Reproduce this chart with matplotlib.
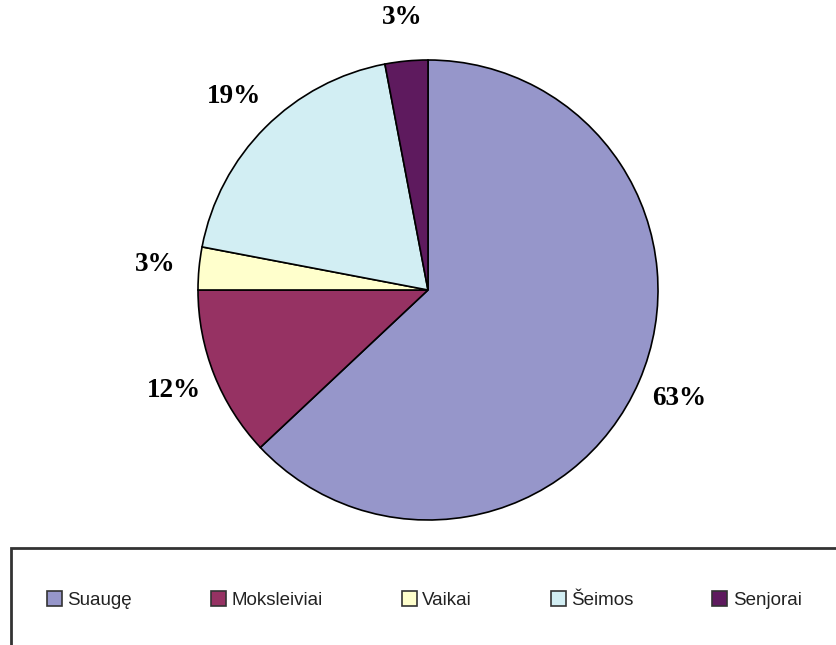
import matplotlib
matplotlib.use("Agg")
import matplotlib.pyplot as plt
from matplotlib.patches import Rectangle, Patch

categories = ["Suaugę", "Moksleiviai", "Vaikai", "Šeimos", "Senjorai"]
values = [63, 12, 3, 19, 3]
colors = ["#9696CA", "#963263", "#FFFFCC", "#D2EEF3", "#5E1A5E"]

W, H = 837, 645
fig = plt.figure(figsize=(W / 100, H / 100), dpi=100)
fig.patch.set_facecolor("white")

cx, cy, r = 428, 290, 230
ax = fig.add_axes([(cx - r) / W, 1 - (cy + r) / H, 2 * r / W, 2 * r / H])
wedges, texts, autotexts = ax.pie(
    values, colors=colors, startangle=90, counterclock=False,
    autopct="%d%%", pctdistance=1.19,
    wedgeprops=dict(edgecolor="black", linewidth=1.2),
    textprops=dict(family="Liberation Serif", fontweight="bold", fontsize=19.5, color="black"),
)
ax.set_xlim(-1, 1)
ax.set_ylim(-1, 1)
ax.set_aspect("equal")
ax.axis("off")

# legend frame (extends beyond figure edges)
fig.patches.append(Rectangle((11 / W, -0.1), 1.2, (H - 548) / H + 0.1,
                             transform=fig.transFigure, fill=False,
                             edgecolor="#333333", linewidth=2))

handles = [Patch(facecolor=c, edgecolor="#333333", linewidth=1.2) for c in colors]
leg = fig.legend(handles, categories, loc="center left", bbox_to_anchor=(30 / W, 1 - 600 / H),
                 ncol=5, frameon=False, columnspacing=4.2, handlelength=0.8, handleheight=0.8,
                 handletextpad=0.3, prop=dict(family="Liberation Sans", size=13.5))
for t in leg.get_texts():
    t.set_color("#222222")

fig.savefig("out.png", dpi=100)
